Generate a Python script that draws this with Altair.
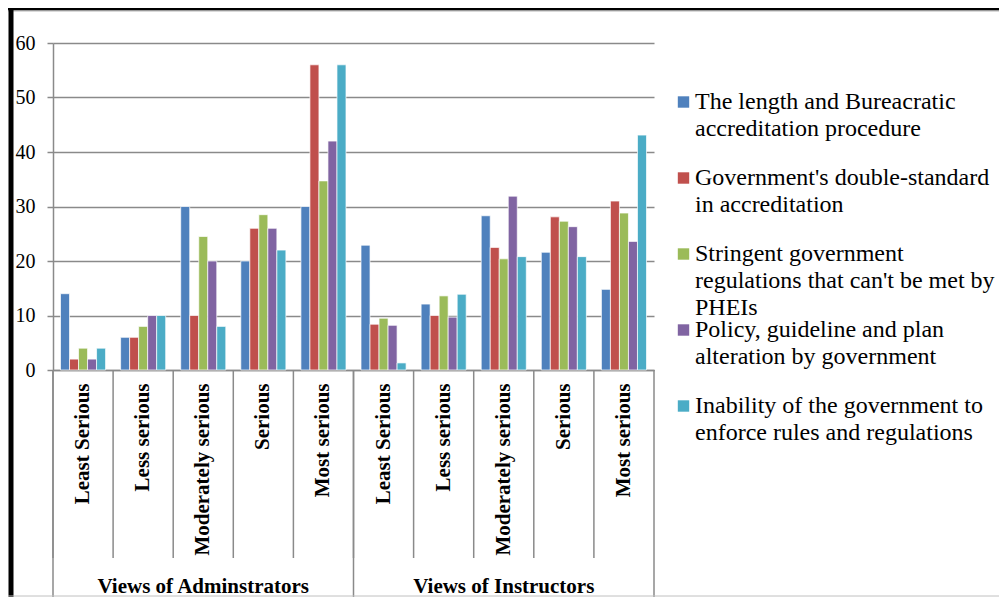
import altair as alt
import pandas as pd

# ---------------- data ----------------
groups = ["Views of  Adminstrators", "Views of Instructors"]
categories = ["Least Serious", "Less serious", "Moderately serious", "Serious", "Most serious"]
series = [
    "The length and Bureacratic accreditation procedure",
    "Government's double-standard in accreditation",
    "Stringent government regulations that can't be met by PHEIs",
    "Policy, guideline and plan alteration by government",
    "Inability of the government to enforce rules and regulations",
]
legend_lines = [
    "The length and Bureacratic\naccreditation procedure",
    "Government's double-standard\nin accreditation",
    "Stringent government\nregulations that can't be met by\nPHEIs",
    "Policy, guideline and plan\nalteration by government",
    "Inability of the government to\nenforce rules and regulations",
]
colors = ["#4F81BD", "#C0504D", "#9BBB59", "#8064A2", "#4BACC6"]

# values per series, for each group: [Least, Less, Moderately, Serious, Most]
admin_length = [14, 6, 30, 20, 30]
admin_double = [2, 6, 10, 26, 56]
admin_stringent = [4, 8, 24.5, 28.5, 34.7]
admin_policy = [2, 10, 20, 26, 42]
admin_inability = [4, 10, 8, 22, 56]

instr_length = [22.9, 12.1, 28.3, 21.6, 14.8]
instr_double = [8.4, 10.0, 22.5, 28.1, 31.0]
instr_stringent = [9.5, 13.6, 20.4, 27.3, 28.8]
instr_policy = [8.2, 9.7, 31.9, 26.3, 23.6]
instr_inability = [1.3, 13.9, 20.8, 20.8, 43.1]

y_ticks = [0, 10, 20, 30, 40, 50, 60]

# ---------------- tables ----------------
group_values = [
    [admin_length, admin_double, admin_stringent, admin_policy, admin_inability],
    [instr_length, instr_double, instr_stringent, instr_policy, instr_inability],
]
keys = [f"{gi}|{c}" for gi in range(len(groups)) for c in categories]

rows = []
for gi, sv in enumerate(group_values):
    for si, vals in enumerate(sv):
        for ci, v in enumerate(vals):
            rows.append({"key": f"{gi}|{categories[ci]}", "series": series[si], "value": v})
df = pd.DataFrame(rows)

sep_df = pd.DataFrame({"key": keys})
grp_start_df = pd.DataFrame({"key": [f"{gi}|{categories[0]}" for gi in range(len(groups))]})
grp_end_df = pd.DataFrame({"key": [keys[-1]]})
grp_label_df = pd.DataFrame({
    "key": [f"{gi}|{categories[len(categories) // 2]}" for gi in range(len(groups))],
    "label": groups,
})
legend_df = pd.DataFrame({"series": series, "label": legend_lines})
one = pd.DataFrame({"d": [0]})

W, H = 601, 327
GRAY = "#8a8a8a"
FONT = "Liberation Serif"

xscale = alt.Scale(domain=keys, paddingInner=0, paddingOuter=0)
cscale = alt.Scale(domain=series, range=colors)

bars = alt.Chart(df).mark_bar(stroke="white", strokeWidth=0.7).encode(
    x=alt.X(
        "key:N",
        scale=xscale,
        sort=keys,
        axis=alt.Axis(
            title=None,
            labelAngle=270,
            labelExpr="split(datum.label, '|')[1]",
            ticks=False,
            labelPadding=13,
            labelFont=FONT,
            labelFontSize=21,
            labelFontWeight="bold",
            labelColor="black",
            labelLimit=400,
            domainColor=GRAY,
            domainWidth=1.5,
            grid=False,
        ),
    ),
    xOffset=alt.XOffset("series:N", sort=series,
                        scale=alt.Scale(domain=series, paddingInner=0, paddingOuter=0.833)),
    y=alt.Y(
        "value:Q",
        scale=alt.Scale(domain=[0, 60], nice=False),
        axis=alt.Axis(
            title=None,
            values=y_ticks,
            tickSize=6,
            labelPadding=12,
            labelFont=FONT,
            labelFontSize=20,
            labelColor="black",
            domainColor=GRAY,
            domainWidth=1.5,
            tickColor=GRAY,
            tickWidth=1.5,
            gridColor=GRAY,
            gridWidth=1.5,
            grid=True,
        ),
    ),
    color=alt.Color("series:N", scale=cscale, sort=series, legend=None),
)

cat_sep = alt.Chart(sep_df).mark_rule(color=GRAY, strokeWidth=1.5).encode(
    x=alt.X("key:N", scale=xscale, sort=keys, bandPosition=0),
    y=alt.value(H),
    y2=alt.value(H + 188),
)
grp_sep0 = alt.Chart(grp_start_df).mark_rule(color=GRAY, strokeWidth=1.5).encode(
    x=alt.X("key:N", scale=xscale, sort=keys, bandPosition=0),
    y=alt.value(H),
    y2=alt.value(H + 230),
)
grp_sep1 = alt.Chart(grp_end_df).mark_rule(color=GRAY, strokeWidth=1.5).encode(
    x=alt.X("key:N", scale=xscale, sort=keys, bandPosition=1),
    y=alt.value(H),
    y2=alt.value(H + 230),
)
grp_text = alt.Chart(grp_label_df).mark_text(
    font=FONT, fontSize=21, fontWeight="bold", color="black", baseline="middle", align="center"
).encode(
    x=alt.X("key:N", scale=xscale, sort=keys),
    y=alt.value(H + 217),
    text="label:N",
)

frame_top = alt.Chart(one).mark_rule(color="black", strokeWidth=3).encode(
    x=alt.value(-45), x2=alt.value(960), y=alt.value(-34)
)
frame_top2 = alt.Chart(one).mark_rule(color="#b5b5b5", strokeWidth=1).encode(
    x=alt.value(-45), x2=alt.value(960), y=alt.value(-32)
)
frame_left = alt.Chart(one).mark_rule(color="black", strokeWidth=5).encode(
    x=alt.value(-42), y=alt.value(-36), y2=alt.value(560)
)
frame_bottom = alt.Chart(one).mark_rule(color="#c0c0c0", strokeWidth=1).encode(
    x=alt.value(-45), x2=alt.value(960), y=alt.value(H + 226)
)

main = alt.layer(bars, cat_sep, grp_sep0, grp_sep1, grp_text,
                 frame_top, frame_top2, frame_left, frame_bottom)

leg_y = alt.Y("series:N", sort=series,
              scale=alt.Scale(domain=series, range=[59, 363], padding=0), axis=None)
leg_sq = alt.Chart(legend_df).mark_square(size=130, opacity=1, filled=True).encode(
    x=alt.value(630.5),
    y=leg_y,
    color=alt.Color("series:N", scale=cscale, sort=series, legend=None),
)
leg_txt = alt.Chart(legend_df).mark_text(
    align="left", baseline="middle", font=FONT, fontSize=24, color="black",
    lineBreak="\n", lineHeight=27,
).encode(
    x=alt.value(642),
    y=leg_y,
    text="label:N",
)
legend = alt.layer(leg_sq, leg_txt)

chart = alt.layer(main, legend).resolve_scale(y="independent").properties(
    width=W,
    height=H,
    autosize=alt.AutoSizeParams(type="none"),
    padding={"left": 45, "top": 35, "right": 345, "bottom": 227},
    background="white",
).configure_view(stroke=None)

chart.save("out.html", embed_options={"renderer": "svg", "actions": False})
